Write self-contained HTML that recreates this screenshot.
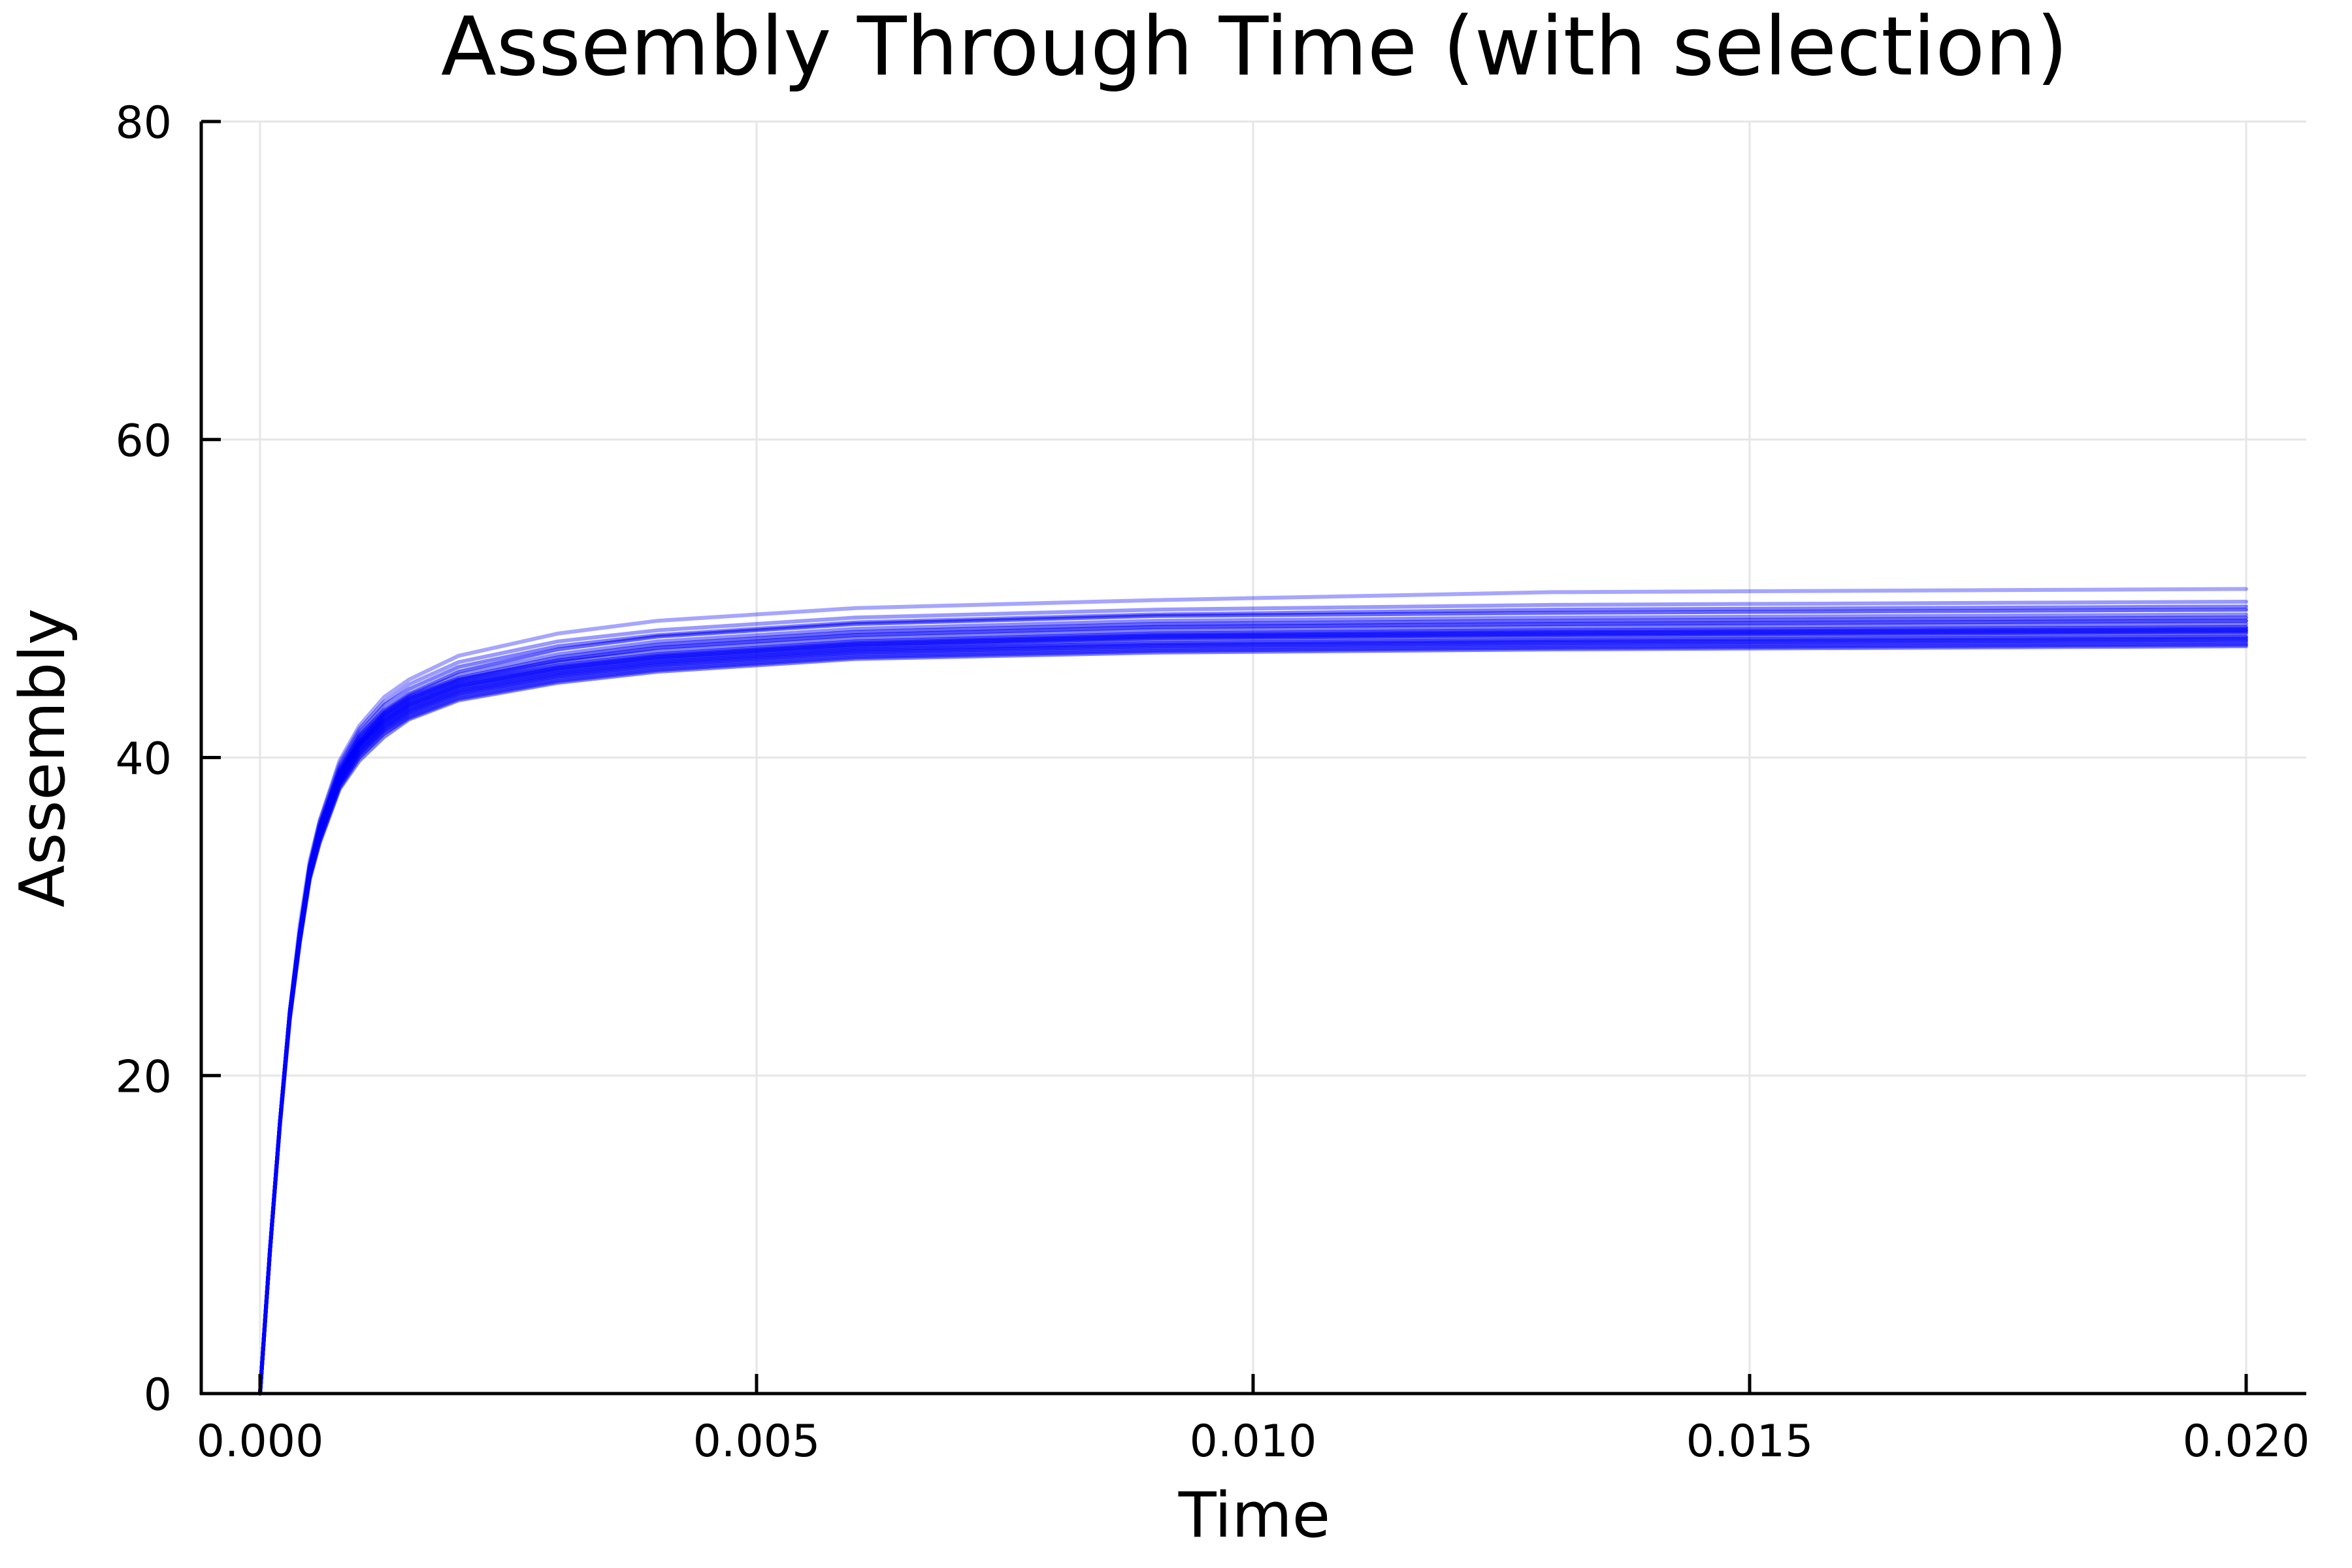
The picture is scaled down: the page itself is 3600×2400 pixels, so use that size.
<!DOCTYPE html>
<html><head><meta charset="utf-8"><style>
html,body{margin:0;padding:0;background:#fff;}
svg{display:block;font-family:"DejaVu Sans","Liberation Sans",sans-serif;}
</style></head><body>
<svg id="chart" width="3600" height="2400" viewBox="0 0 3600 2400" xmlns="http://www.w3.org/2000/svg">
<rect width="3600" height="2400" fill="#fff"/>
<g id="grid"></g>
<g id="series"></g>
<g id="axes"></g>
<text x="1920" y="114" font-size="124" text-anchor="middle">Assembly Through Time (with selection)</text>
<text x="1920" y="2352" font-size="95" text-anchor="middle">Time</text>
<text x="0" y="0" font-size="95" text-anchor="middle" transform="translate(98,1160) rotate(-90)">Assembly</text>
</svg>
<script>
const times = [0,0.0001,0.0002,0.0003,0.0004,0.0005,0.0006,0.0008,0.001,0.00125,0.0015,0.002,0.003,0.004,0.006,0.009,0.013,0.02];
const s1 = [0,9,17,24,29.5,33.5,36,39.8,42,43.8,44.9,46.4,47.8,48.6,49.4,49.9,50.4,50.6];
const s2 = [0,9,17,24,29,33.3,36,39.6,41.8,43.5,44.6,46,47.3,48,48.8,49.3,49.6,49.8];
const s3 = [0,9,17,24,29,33,35.8,39.4,41.6,43.3,44.3,45.7,47,47.7,48.5,49,49.3,49.5];
const s4 = [0,9,17,24,29,33.2,35.7,39.2,41.4,43,44,45.4,46.8,47.6,48.4,48.9,49.1,49.3];
const s5 = [0,9,17,23.8,29,33,35.6,39.2,41.3,42.9,43.9,45.2,46.5,47.3,48.1,48.6,48.8,49.0];
const s6 = [0,9,17,24,29,33,35.5,39,41.2,42.8,43.8,45,46.3,47.1,47.9,48.4,48.6,48.8];
const s7 = [0,9,17,24,29,33,35.5,39,41,42.7,43.7,44.9,46.1,46.9,47.7,48.2,48.4,48.6];
const s8 = [0,9,17,24,29,33,35.4,39,41,42.6,43.6,44.8,46,46.7,47.5,48,48.2,48.4];
const s9 = [0,9,17,24,29,33,35.4,38.9,40.9,42.5,43.5,44.7,45.8,46.5,47.3,47.8,48,48.2];
const s10 = [0,9,17,24,29,33,35.3,38.8,40.8,42.4,43.4,44.6,45.7,46.4,47.2,47.7,47.9,48.1];
const s11 = [0,9,17,24,29,33,35.3,38.8,40.8,42.3,43.3,44.5,45.6,46.3,47.1,47.6,47.8,48];
const s12 = [0,9,17,24,28.8,32.8,35.2,38.7,40.7,42.2,43.2,44.4,45.5,46.2,47,47.5,47.7,47.9];
const s13 = [0,9,17,24,28.8,32.8,35.2,38.6,40.6,42.1,43.1,44.3,45.4,46.1,46.9,47.4,47.6,47.8];
const s14 = [0,9,17,23.8,28.7,32.7,35.1,38.5,40.5,42,43,44.2,45.3,46,46.8,47.2,47.4,47.6];
const s15 = [0,9,17,23.8,28.6,32.6,35,38.4,40.4,41.9,42.9,44.1,45.2,45.9,46.7,47.1,47.3,47.5];
const s16 = [0,9,17,23.8,28.6,32.6,35,38.4,40.3,41.8,42.8,44,45.1,45.8,46.6,47,47.2,47.4];
const s17 = [0,9,17,23.7,28.5,32.5,34.9,38.3,40.2,41.7,42.7,43.9,45,45.7,46.5,46.9,47.1,47.3];
const s18 = [0,9,17,23.7,28.5,32.5,34.8,38.2,40.1,41.6,42.6,43.8,44.9,45.6,46.4,46.8,47,47.2];
const s19 = [0,9,17,23.6,28.4,32.4,34.7,38.1,40,41.5,42.5,43.7,44.8,45.5,46.3,46.7,46.9,47.1];
const s20 = [0,9,16.8,23.5,28.3,32.3,34.6,38,39.8,41.3,42.4,43.6,44.7,45.4,46.2,46.6,46.8,47];
const seriesList = [s1,s2,s3,s4,s5,s6,s7,s8,s9,s10,s11,s12,s13,s14,s15,s16,s17,s18,s19,s20];
const opacities = [0.35,0.4,0.5,0.6,0.45,0.6,0.7,0.5,0.65,0.55,0.7,0.6,0.5,0.65,0.55,0.6,0.5,0.45,0.55,0.5];
const xTicks = [0,0.005,0.01,0.015,0.02];
const xTickLabels = ["0.000","0.005","0.010","0.015","0.020"];
const yTicks = [0,20,40,60,80];
const yTickLabels = ["0","20","40","60","80"];

const NS = "http://www.w3.org/2000/svg";
const L = 308, R = 3530, T = 186, B = 2133;
const X0 = 398, X1 = 3438;
function xs(v){ return X0 + (v - 0) / 0.02 * (X1 - X0); }
function ys(v){ return B - v / 80 * (B - T); }
function mk(tag, attrs, parent){ const e = document.createElementNS(NS, tag); for (const k in attrs) e.setAttribute(k, attrs[k]); parent.appendChild(e); return e; }

const grid = document.getElementById('grid');
const axes = document.getElementById('axes');
const ser = document.getElementById('series');

xTicks.forEach((t, i) => {
  const g = mk('line', {x1: xs(t), x2: xs(t), y1: T, y2: B, stroke: '#e6e6e6', 'stroke-width': 3}, grid);
  
  
  const tk = mk('line', {x1: xs(t), x2: xs(t), y1: B, y2: B - 30, stroke: '#000', 'stroke-width': 5}, axes);
  
  
  const lb = mk('text', {x: xs(t), y: 2229, 'font-size': 68, 'text-anchor': 'middle'}, axes);
  lb.textContent = xTickLabels[i];
  
  
});
yTicks.forEach((v, i) => {
  const g = mk('line', {x1: L, x2: R, y1: ys(v), y2: ys(v), stroke: '#e6e6e6', 'stroke-width': 3}, grid);
  
  
  const tk = mk('line', {x1: L, x2: L + 30, y1: ys(v), y2: ys(v), stroke: '#000', 'stroke-width': 5}, axes);
  
  
  const lb = mk('text', {x: 263, y: ys(v) + 25, 'font-size': 68, 'text-anchor': 'end'}, axes);
  lb.textContent = yTickLabels[i];
  
  
});
const xa = mk('line', {x1: L - 2, x2: R, y1: B, y2: B, stroke: '#000', 'stroke-width': 5}, axes);


const ya = mk('line', {x1: L, x2: L, y1: T, y2: B + 2, stroke: '#000', 'stroke-width': 5}, axes);



seriesList.forEach((s, i) => {
  const d = s.map((v, j) => (j ? 'L' : 'M') + xs(times[j]).toFixed(1) + ',' + ys(v).toFixed(1)).join(' ');
  const p = mk('path', {d: d, fill: 'none', stroke: '#0000ff', 'stroke-width': 6, 'stroke-opacity': opacities[i], 'stroke-linejoin': 'round', 'stroke-linecap': 'round'}, ser);
  
  
});
</script>
</body></html>
